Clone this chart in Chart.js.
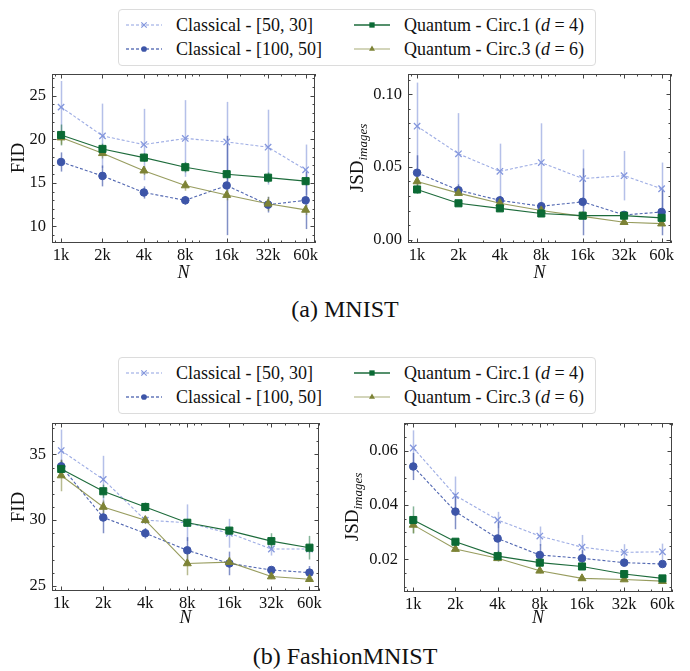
<!DOCTYPE html>
<html>
<head>
<meta charset="utf-8">
<title>MNIST / FashionMNIST - FID and JSD vs N</title>
<script src="https://cdn.jsdelivr.net/npm/chart.js@4.4.1/dist/chart.umd.min.js"></script>
<style>
    body { margin: 0; background: #fff; color: #111; font-family: 'Liberation Serif', 'DejaVu Serif', serif; }
    #page { position: relative; width: 690px; height: 671px; overflow: hidden; }
    canvas.panel { position: absolute; }
    .legend { position: absolute; left: 118px; width: 478px; height: 57px; box-sizing: border-box;
              border: 1px solid #dcdcdc; border-radius: 4px; background: #fff; }
    .entry { position: absolute; height: 20px; line-height: 20px; font-size: 18px; white-space: nowrap; }
    .entry svg { position: absolute; left: 0; top: 4px; }
    .entry span { position: absolute; left: 50px; top: 0; }
    .ytitle { position: absolute; font-size: 19px; white-space: nowrap; line-height: 22px;
              transform: translate(-50%, -50%) rotate(-90deg); }
    .ytitle sub { font-style: italic; font-size: 13px; vertical-align: -4px; }
    .caption { position: absolute; left: 0; width: 690px; text-align: center; font-size: 24px; line-height: 26px; }
</style>
</head>
<body>
<div id="page">
    <div class="legend" id="legendA" style="top:9px"></div>
    <canvas class="panel" id="mnistFid" width="345" height="229" style="left:0;top:56px"></canvas>
    <canvas class="panel" id="mnistJsd" width="345" height="229" style="left:345px;top:56px"></canvas>
    <div class="caption" style="top:296px">(a) MNIST</div>

    <div class="legend" id="legendB" style="top:357px"></div>
    <canvas class="panel" id="fashionFid" width="345" height="225" style="left:0;top:405px"></canvas>
    <canvas class="panel" id="fashionJsd" width="345" height="225" style="left:345px;top:405px"></canvas>
    <div class="caption" style="top:643px">(b) FashionMNIST</div>
</div>

<script>
// Chart.js Configuration
Chart.defaults.font.family = "'Liberation Serif', 'DejaVu Serif', serif";
Chart.defaults.color = '#111';

// Training set sizes on the x axis
const nValues = [1000, 2000, 4000, 8000, 16000, 32000, 60000];
const nLabels = ['1k', '2k', '4k', '8k', '16k', '32k', '60k'];

const seriesLabels = [
    'Classical - [50, 30]',
    'Classical - [100, 50]',
    'Quantum - Circ.1 (<i>d</i> = 4)',
    'Quantum - Circ.3 (<i>d</i> = 6)'
];

// (a) MNIST - FID
const mnistFidC50 = [23.7, 20.4, 19.4, 20.1, 19.7, 19.1, 16.5];
const mnistFidC50Err = [3.0, 3.7, 4.1, 4.4, 4.6, 4.3, 2.9];
const mnistFidC100 = [17.4, 15.8, 13.9, 13.0, 14.7, 12.5, 13.0];
const mnistFidC100Err = [1.1, 1.2, 0.7, 0.5, 5.7, 0.9, 3.3];
const mnistFidQ1 = [20.5, 18.9, 17.9, 16.8, 16.0, 15.6, 15.2];
const mnistFidQ1Err = [1.2, 0.6, 0.5, 0.6, 0.5, 0.6, 0.5];
const mnistFidQ3 = [20.2, 18.4, 16.4, 14.7, 13.6, 12.6, 11.9];
const mnistFidQ3Err = [0.8, 0.6, 0.5, 0.6, 0.6, 0.8, 0.6];
const mnistFidTicks = [10, 15, 20, 25];

// (a) MNIST - JSD
const mnistJsdC50 = [0.078, 0.059, 0.047, 0.053, 0.042, 0.044, 0.035];
const mnistJsdC50Err = [0.030, 0.028, 0.019, 0.027, 0.020, 0.017, 0.018];
const mnistJsdC100 = [0.046, 0.034, 0.027, 0.023, 0.026, 0.017, 0.019];
const mnistJsdC100Err = [0.012, 0.004, 0.003, 0.003, 0.023, 0.002, 0.016];
const mnistJsdQ1 = [0.0345, 0.025, 0.0215, 0.018, 0.0165, 0.0165, 0.015];
const mnistJsdQ1Err = [0.003, 0.002, 0.001, 0.001, 0.001, 0.001, 0.001];
const mnistJsdQ3 = [0.040, 0.032, 0.025, 0.020, 0.016, 0.012, 0.011];
const mnistJsdQ3Err = [0.003, 0.002, 0.001, 0.001, 0.001, 0.001, 0.001];
const mnistJsdTicks = [0, 0.05, 0.10];

// (b) FashionMNIST - FID
const fashionFidC50 = [35.3, 33.1, 30.0, 29.8, 29.0, 27.8, 27.8];
const fashionFidC50Err = [1.6, 1.8, 0.3, 1.4, 1.1, 0.5, 0.3];
const fashionFidC100 = [34.1, 30.2, 29.0, 27.7, 26.7, 26.2, 26.0];
const fashionFidC100Err = [0.5, 1.2, 0.4, 1.0, 0.9, 0.2, 0.5];
const fashionFidQ1 = [33.9, 32.2, 31.0, 29.8, 29.2, 28.4, 27.9];
const fashionFidQ1Err = [0.6, 0.5, 0.35, 0.3, 0.3, 0.6, 0.9];
const fashionFidQ3 = [33.4, 31.0, 30.0, 26.7, 26.8, 25.7, 25.5];
const fashionFidQ3Err = [1.2, 0.5, 0.3, 0.9, 0.4, 0.2, 0.2];
const fashionFidTicks = [25, 30, 35];

// (b) FashionMNIST - JSD
const fashionJsdC50 = [0.061, 0.0435, 0.0345, 0.0286, 0.0245, 0.0226, 0.0228];
const fashionJsdC50Err = [0.0065, 0.007, 0.003, 0.0035, 0.0045, 0.003, 0.003];
const fashionJsdC100 = [0.0542, 0.0376, 0.0277, 0.0216, 0.0204, 0.0188, 0.0183];
const fashionJsdC100Err = [0.005, 0.0065, 0.006, 0.004, 0.003, 0.001, 0.001];
const fashionJsdQ1 = [0.0345, 0.0265, 0.0212, 0.0188, 0.0174, 0.0146, 0.013];
const fashionJsdQ1Err = [0.005, 0.001, 0.002, 0.001, 0.001, 0.001, 0.001];
const fashionJsdQ3 = [0.0327, 0.0238, 0.0204, 0.0158, 0.013, 0.0126, 0.012];
const fashionJsdQ3Err = [0.003, 0.001, 0.001, 0.001, 0.0005, 0.0005, 0.0005];
const fashionJsdTicks = [0.02, 0.04, 0.06];

// look of each series, same order as seriesLabels
const seriesStyles = [
    { marker: '#8497dd', line: 'rgba(132,151,221,0.8)', legendLine: 'rgba(132,151,221,0.6)', err: 'rgba(120,140,215,0.55)', shape: 'crossRot', radius: 4.5, dash: [3, 2], order: 3 },
    { marker: '#3d55a8', line: 'rgba(61,85,168,0.9)', legendLine: 'rgba(61,85,168,0.8)', err: 'rgba(61,85,168,0.65)', shape: 'circle', radius: 3.8, dash: [3, 2], order: 2 },
    { marker: '#0b6a34', line: '#1d6b3b', legendLine: '#1d6b3b', err: 'rgba(11,106,52,0.5)', shape: 'rect', radius: 5, dash: [], order: 0 },
    { marker: '#7d8336', line: 'rgba(125,131,54,0.8)', legendLine: 'rgba(150,155,90,0.55)', err: 'rgba(125,131,54,0.55)', shape: 'triangle', radius: 4.6, dash: [], order: 1 }
];

const panels = [
    { id: 'mnistFid', padTop: 18, padRight: 30, yWidth: 52, xHeight: 42, yMin: 8.1, yMax: 27.5,
      yTicks: mnistFidTicks, yMinor: 1, decimals: 0, title: 'FID', titleX: 18, titleY: 158,
      values: [mnistFidC50, mnistFidC100, mnistFidQ1, mnistFidQ3],
      errors: [mnistFidC50Err, mnistFidC100Err, mnistFidQ1Err, mnistFidQ3Err] },
    { id: 'mnistJsd', padTop: 18, padRight: 19, yWidth: 63, xHeight: 42, yMin: -0.0023, yMax: 0.1139,
      yTicks: mnistJsdTicks, yMinor: 0.01, decimals: 2, title: 'JSD<sub>images</sub>', titleX: 360, titleY: 158,
      values: [mnistJsdC50, mnistJsdC100, mnistJsdQ1, mnistJsdQ3],
      errors: [mnistJsdC50Err, mnistJsdC100Err, mnistJsdQ1Err, mnistJsdQ3Err] },
    { id: 'fashionFid', padTop: 18, padRight: 26, yWidth: 52, xHeight: 39, yMin: 24.6, yMax: 37.4,
      yTicks: fashionFidTicks, yMinor: 1, decimals: 0, title: 'FID', titleX: 18, titleY: 507,
      values: [fashionFidC50, fashionFidC100, fashionFidQ1, fashionFidQ3],
      errors: [fashionFidC50Err, fashionFidC100Err, fashionFidQ1Err, fashionFidQ3Err] },
    { id: 'fashionJsd', padTop: 18, padRight: 18, yWidth: 59, xHeight: 38, yMin: 0.008, yMax: 0.0702,
      yTicks: fashionJsdTicks, yMinor: 0.005, decimals: 2, title: 'JSD<sub>images</sub>', titleX: 355, titleY: 507,
      values: [fashionJsdC50, fashionJsdC100, fashionJsdQ1, fashionJsdQ3],
      errors: [fashionJsdC50Err, fashionJsdC100Err, fashionJsdQ1Err, fashionJsdQ3Err] }
];

// vertical error bars, drawn under the markers
const errorBars = {
    id: 'errorBars',
    beforeDatasetsDraw(chart) {
        const { ctx, chartArea: a, scales: { x, y } } = chart;
        ctx.save();
        ctx.beginPath();
        ctx.rect(a.left, a.top, a.right - a.left, a.bottom - a.top);
        ctx.clip();
        ctx.lineWidth = 1.5;
        chart.data.datasets.forEach(ds => {
            ctx.strokeStyle = ds.errorColor;
            ds.data.forEach((p, i) => {
                const px = Math.round(x.getPixelForValue(p.x)) + 0.5;
                ctx.beginPath();
                ctx.moveTo(px, y.getPixelForValue(p.y - ds.errors[i]));
                ctx.lineTo(px, y.getPixelForValue(p.y + ds.errors[i]));
                ctx.stroke();
            });
        });
        ctx.restore();
    }
};

// matplotlib-like box with inward major / minor ticks on all four sides
const frameTicks = {
    id: 'frameTicks',
    afterDraw(chart, args, opts) {
        const { ctx, chartArea: a, scales: { x, y } } = chart;
        ctx.save();
        ctx.strokeStyle = '#444';
        ctx.lineWidth = 1;
        ctx.strokeRect(Math.round(a.left) + 0.5, Math.round(a.top) + 0.5,
                       Math.round(a.right - a.left) - 1, Math.round(a.bottom - a.top) - 1);

        const tickX = (v, len) => {
            const px = Math.round(x.getPixelForValue(v)) + 0.5;
            ctx.moveTo(px, a.bottom); ctx.lineTo(px, a.bottom - len);
            ctx.moveTo(px, a.top); ctx.lineTo(px, a.top + len);
        };
        const tickY = (v, len) => {
            const py = Math.round(y.getPixelForValue(v)) + 0.5;
            ctx.moveTo(a.left, py); ctx.lineTo(a.left + len, py);
            ctx.moveTo(a.right, py); ctx.lineTo(a.right - len, py);
        };

        ctx.beginPath();
        // log minor ticks on N
        [100, 1000, 10000].forEach(d => {
            for (let k = 1; k <= 9; k++) {
                const v = k * d;
                if (v > x.min && v < x.max) tickX(v, 2.5);
            }
        });
        nValues.forEach(v => tickX(v, 4.5));
        const step = opts.minor;
        for (let v = Math.ceil(y.min / step - 1e-9) * step; v <= y.max; v += step) tickY(v, 2.5);
        y.ticks.forEach(t => tickY(t.value, 4.5));
        ctx.stroke();
        ctx.restore();
    }
};

function buildDatasets(panel) {
    return panel.values.map((vals, s) => {
        const st = seriesStyles[s];
        return {
            label: seriesLabels[s].replace(/<\/?i>/g, ''),
            data: nValues.map((n, i) => ({ x: n, y: vals[i] })),
            errors: panel.errors[s],
            errorColor: st.err,
            order: st.order,
            borderColor: st.line,
            borderWidth: 1.1,
            borderDash: st.dash,
            pointStyle: st.shape,
            pointRadius: st.radius,
            pointHoverRadius: st.radius,
            pointBackgroundColor: st.marker,
            pointBorderColor: st.marker,
            pointBorderWidth: st.shape === 'crossRot' ? 1.3 : 1,
            fill: false,
            tension: 0
        };
    });
}

function createPanel(panel) {
    const ctx = document.getElementById(panel.id).getContext('2d');
    return new Chart(ctx, {
        type: 'line',
        data: { datasets: buildDatasets(panel) },
        options: {
            responsive: false,
            animation: false,
            devicePixelRatio: 1,
            layout: { padding: { top: panel.padTop, right: panel.padRight, left: 0, bottom: 0 } },
            plugins: {
                legend: { display: false },
                tooltip: { enabled: false },
                frameTicks: { minor: panel.yMinor }
            },
            scales: {
                x: {
                    type: 'logarithmic',
                    min: 859,
                    max: 70200,
                    grid: { display: false, drawTicks: false },
                    border: { display: false },
                    afterBuildTicks: scale => { scale.ticks = nValues.map(v => ({ value: v })); },
                    afterFit: scale => { scale.height = panel.xHeight; },
                    ticks: {
                        autoSkip: false, maxRotation: 0, minRotation: 0, padding: 3,
                        color: '#111', font: { size: 16.5 },
                        callback: value => nLabels[nValues.indexOf(value)]
                    },
                    title: {
                        display: true, text: 'N', color: '#111',
                        font: { size: 18, style: 'italic' },
                        padding: { top: 0, bottom: 1 }
                    }
                },
                y: {
                    type: 'linear',
                    min: panel.yMin,
                    max: panel.yMax,
                    grid: { display: false, drawTicks: false },
                    border: { display: false },
                    afterBuildTicks: scale => { scale.ticks = panel.yTicks.map(v => ({ value: v })); },
                    afterFit: scale => { scale.width = panel.yWidth; },
                    ticks: {
                        padding: 6, color: '#111', font: { size: 16.5 },
                        callback: value => value.toFixed(panel.decimals)
                    }
                }
            }
        },
        plugins: [errorBars, frameTicks]
    });
}

function markerSvg(st, cx, cy) {
    const r = st.radius * 0.75;
    if (st.shape === 'crossRot') {
        const d = r * 0.8;
        return `<path d="M${cx - d},${cy - d}L${cx + d},${cy + d}M${cx - d},${cy + d}L${cx + d},${cy - d}" stroke="${st.marker}" stroke-width="1.2"/>`;
    }
    if (st.shape === 'circle') {
        return `<circle cx="${cx}" cy="${cy}" r="${r}" fill="${st.marker}"/>`;
    }
    if (st.shape === 'rect') {
        const h = r * Math.SQRT1_2;
        return `<rect x="${cx - h}" y="${cy - h}" width="${2 * h}" height="${2 * h}" fill="${st.marker}"/>`;
    }
    return `<polygon points="${cx},${cy - r} ${cx + r * 0.87},${cy + r * 0.5} ${cx - r * 0.87},${cy + r * 0.5}" fill="${st.marker}"/>`;
}

function buildLegend(boxId) {
    const box = document.getElementById(boxId);
    const slots = [[7, 5], [7, 29], [235, 5], [235, 29]];
    seriesLabels.forEach((label, s) => {
        const st = seriesStyles[s];
        const entry = document.createElement('div');
        entry.className = 'entry';
        entry.style.left = slots[s][0] + 'px';
        entry.style.top = slots[s][1] + 'px';
        const dash = st.dash.length ? ` stroke-dasharray="${st.dash.join(',')}"` : '';
        entry.innerHTML =
            `<svg width="36" height="12"><line x1="0" y1="6" x2="36" y2="6" stroke="${st.legendLine}" stroke-width="1.3"${dash}/>` +
            markerSvg(st, 18, 6) + `</svg><span>${label}</span>`;
        box.appendChild(entry);
    });
}

function addAxisTitle(panel) {
    const div = document.createElement('div');
    div.className = 'ytitle';
    div.style.left = panel.titleX + 'px';
    div.style.top = panel.titleY + 'px';
    div.innerHTML = panel.title;
    document.getElementById('page').appendChild(div);
}

buildLegend('legendA');
buildLegend('legendB');
panels.forEach(p => {
    createPanel(p);
    addAxisTitle(p);
});
</script>
</body>
</html>
